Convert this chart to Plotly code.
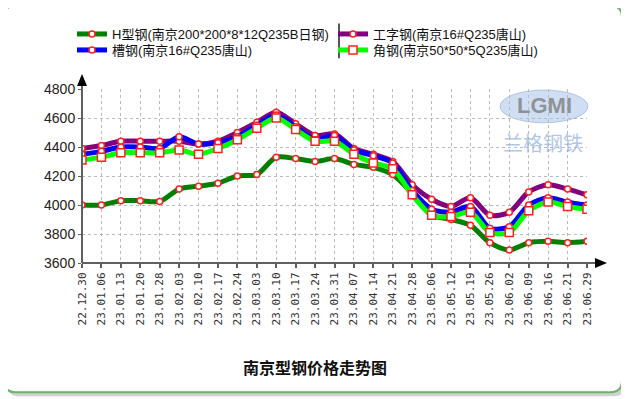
import plotly.graph_objects as go

dates = ["22.12.30", "23.01.06", "23.01.13", "23.01.20", "23.01.28", "23.02.03", "23.02.10",
         "23.02.17", "23.02.24", "23.03.03", "23.03.10", "23.03.17", "23.03.24", "23.03.31",
         "23.04.07", "23.04.14", "23.04.21", "23.04.28", "23.05.06", "23.05.12", "23.05.19",
         "23.05.26", "23.06.02", "23.06.09", "23.06.16", "23.06.21", "23.06.29"]

h_beam = [4000, 4000, 4030, 4030, 4025, 4110, 4130, 4150, 4200, 4210, 4330, 4320, 4300, 4320,
          4280, 4260, 4210, 4080, 3930, 3900, 3860, 3740, 3690, 3740, 3750, 3740, 3750]
i_beam = [4390, 4410, 4440, 4440, 4440, 4440, 4420, 4440, 4500, 4570, 4640, 4560, 4480, 4490,
          4390, 4350, 4300, 4140, 4040, 3990, 4050, 3930, 3950, 4090, 4140, 4110, 4070]
channel = [4350, 4370, 4400, 4400, 4390, 4470, 4420, 4430, 4470, 4550, 4620, 4540, 4450, 4480,
           4380, 4340, 4290, 4100, 3970, 3950, 3990, 3840, 3850, 4000, 4050, 4020, 4000]
angle = [4310, 4330, 4360, 4360, 4360, 4380, 4350, 4390, 4450, 4530, 4600, 4520, 4440, 4440,
         4350, 4290, 4250, 4070, 3930, 3920, 3950, 3810, 3810, 3960, 4020, 3990, 3970]

names = ["H型钢(南京200*200*8*12Q235B日钢)", "工字钢(南京16#Q235唐山)",
         "槽钢(南京16#Q235唐山)", "角钢(南京50*50*5Q235唐山)"]
series = [h_beam, i_beam, channel, angle]
colors = ["#008000", "#800080", "#0000FF", "#00FF00"]
symbols = ["circle", "circle", "circle", "square"]
msizes = [6, 6, 6, 8]
legend_ids = ["legend", "legend2", "legend3", "legend4"]
# legend slot (left x of item, top y) in reference pixels
legend_slots = [(72, 19), (333, 19), (72, 35), (333, 35)]

y_ticks = [3600, 3800, 4000, 4200, 4400, 4600, 4800]
title = "南京型钢价格走势图"

OFF = 8  # page body margin of the browser
W, H = 629 - OFF, 399 - OFF
L, R, T, B = 82 - OFF, 42, 88 - OFF, 136
PW, PH = W - L - R, H - T - B


def px(x):
    return (x - OFF - L) / PW


def py(y):
    return (H - B - (y - OFF)) / PH


fig = go.Figure()
for name, vals, col, sym, ms, lg in zip(names, series, colors, symbols, msizes, legend_ids):
    fig.add_trace(go.Scatter(
        x=list(range(len(dates))), y=vals, name=name, mode="lines+markers", legend=lg,
        line=dict(color=col, width=5, shape="spline", smoothing=0.8),
        marker=dict(symbol=sym, size=ms, color="white", line=dict(color="#FF2020", width=1.5)),
    ))

FONT = "Liberation Sans, Arial, Noto Sans CJK SC, sans-serif"


def rounded(x0, y0, x1, y1, r):
    return (f"M {px(x0 + r)} {py(y0)} L {px(x1 - r)} {py(y0)} Q {px(x1)} {py(y0)} {px(x1)} {py(y0 + r)} "
            f"L {px(x1)} {py(y1 - r)} Q {px(x1)} {py(y1)} {px(x1 - r)} {py(y1)} "
            f"L {px(x0 + r)} {py(y1)} Q {px(x0)} {py(y1)} {px(x0)} {py(y1 - r)} "
            f"L {px(x0)} {py(y0 + r)} Q {px(x0)} {py(y0)} {px(x0 + r)} {py(y0)} Z")


shapes = [
    dict(type="path", xref="paper", yref="paper", path=rounded(7, 7, 626, 397, 12),
         fillcolor="rgba(0,0,0,0.18)", line=dict(width=0), layer="below"),
    dict(type="path", xref="paper", yref="paper", path=rounded(4, 4, 622, 393, 12),
         fillcolor="white", line=dict(color="#6AB56A", width=2), layer="below"),
    # axis lines
    dict(type="line", xref="paper", yref="paper", x0=px(82), x1=px(82), y0=py(263), y1=py(84),
         line=dict(color="#606060", width=2)),
    dict(type="line", xref="paper", yref="paper", x0=px(82), x1=px(596), y0=py(263), y1=py(263),
         line=dict(color="#606060", width=2)),
    # arrows
    dict(type="path", xref="paper", yref="paper",
         path=f"M {px(77)} {py(85)} L {px(87)} {py(85)} L {px(82)} {py(73)} Z",
         fillcolor="black", line=dict(width=0)),
    dict(type="path", xref="paper", yref="paper",
         path=f"M {px(595)} {py(258)} L {px(595)} {py(268)} L {px(607)} {py(263)} Z",
         fillcolor="black", line=dict(width=0)),
    # legend separator
    dict(type="line", xref="paper", yref="paper", x0=px(339), x1=px(339), y0=py(22), y1=py(57),
         line=dict(color="#202020", width=1.5)),
    # watermark ellipse
    dict(type="circle", xref="paper", yref="paper", x0=px(500), x1=px(588), y0=py(89), y1=py(122),
         fillcolor="rgba(120,160,220,0.35)", line=dict(color="rgba(120,160,220,0.5)", width=1),
         layer="below"),
]

annotations = [
    dict(text="<b>" + title + "</b>", x=px(315), y=py(368), xref="paper", yref="paper",
         showarrow=False, font=dict(size=16, color="#111", family="Noto Sans CJK SC"),
         xanchor="center", yanchor="middle"),
    dict(text="<b>LGMI</b>", x=px(544), y=py(105), xref="paper", yref="paper", showarrow=False,
         font=dict(size=22, color="rgba(120,120,120,0.75)", family="Liberation Sans"),
         xanchor="center", yanchor="middle"),
    dict(text="兰格钢铁", x=px(543), y=py(142), xref="paper", yref="paper", showarrow=False,
         font=dict(size=20, color="rgba(150,180,225,0.75)", family="Noto Sans CJK SC"),
         xanchor="center", yanchor="middle"),
]

layout_legends = {}
for lg, (lx, ly) in zip(legend_ids, legend_slots):
    layout_legends[lg] = dict(x=px(lx), y=py(ly), xanchor="left", yanchor="top",
                              font=dict(size=13, family=FONT, color="#111"),
                              bgcolor="rgba(0,0,0,0)", itemwidth=30, borderwidth=0)

fig.update_layout(
    width=W, height=H,
    margin=dict(l=L, r=R, t=T, b=B, pad=0),
    paper_bgcolor="white", plot_bgcolor="rgba(0,0,0,0)",
    font=dict(family=FONT, color="#222"),
    showlegend=True,
    xaxis=dict(range=[0, len(dates) - 1], tickmode="array", tickvals=list(range(len(dates))),
               ticktext=dates, tickangle=-90, showgrid=True, gridcolor="#BBBBBB", griddash="dot",
               gridwidth=1, zeroline=False, showline=False, ticks="outside", ticklen=4,
               tickcolor="#606060", tickwidth=1.5,
               tickfont=dict(size=11, family="DejaVu Sans Mono", color="#333")),
    yaxis=dict(range=[3600, 4800], tickmode="array", tickvals=y_ticks,
               showgrid=True, gridcolor="#BBBBBB", griddash="dot", gridwidth=1, zeroline=False,
               showline=False, ticks="outside", ticklen=3, tickcolor="#606060",
               tickfont=dict(size=14, color="#222")),
    shapes=shapes, annotations=annotations,
    **layout_legends,
)

fig.write_html("out.html")
